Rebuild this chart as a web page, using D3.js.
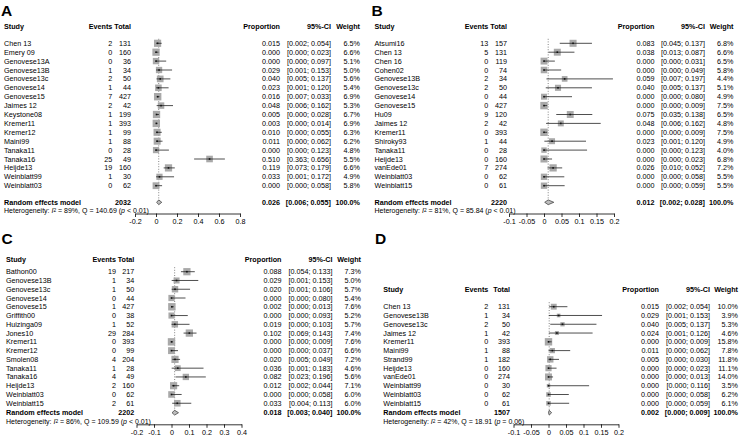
<!DOCTYPE html>
<html><head><meta charset="utf-8">
<script src="https://cdn.jsdelivr.net/npm/d3@7"></script>
<style>
body{margin:0;background:#fff}
svg{display:block}
text{font-family:"Liberation Sans",Arial,Helvetica,sans-serif;fill:#000}
</style>
</head><body>
<svg id="chart" width="740" height="445"></svg>
<script>
// ---------------- DATA ----------------
// Panel A
const A_studies = ["Chen 13","Emery 09","Genovese13A","Genovese13B","Genovese13c","Genovese14","Genovese15","Jaimes 12","Keystone08","Kremer11","Kremer12","Maini99","Tanaka11","Tanaka16","Heijde13","Weinblatt99","Weinblatt03"];
const A_events  = [2,0,0,1,2,1,7,2,1,1,1,1,0,25,19,1,0];
const A_totals  = [131,160,36,34,50,44,427,42,199,393,99,88,28,49,160,30,62];
const A_prop    = [0.015,0.000,0.000,0.029,0.040,0.023,0.016,0.048,0.005,0.003,0.010,0.011,0.000,0.510,0.119,0.033,0.000];
const A_lower   = [0.002,0.000,0.000,0.001,0.005,0.001,0.007,0.006,0.000,0.000,0.000,0.000,0.000,0.363,0.073,0.001,0.000];
const A_upper   = [0.054,0.023,0.097,0.153,0.137,0.120,0.033,0.162,0.028,0.014,0.055,0.062,0.123,0.656,0.179,0.172,0.058];
const A_weight  = [6.5,6.6,5.1,5.0,5.6,5.4,6.9,5.3,6.7,6.9,6.3,6.2,4.8,5.5,6.6,4.9,5.8];
const A_pooled  = {total:2032, est:0.026, lower:0.006, upper:0.055, i2:"89%", q:"140.69", p:"< 0.01"};
const A_ticks   = [-0.2,0,0.2,0.4,0.6,0.8];
const A_tickLabels = ["-0.2","0","0.2","0.4","0.6","0.8"];

// Panel B
const B_studies = ["Atsumi16","Chen 13","Chen 16","Cohen02","Genovese13B","Genovese13c","Genovese14","Genovese15","Hu09","Jaimes 12","Kremer11","Shiroky93","Tanaka11","Heijde13","vanEde01","Weinblatt03","Weinblatt15"];
const B_events  = [13,5,0,0,2,2,0,0,9,2,0,1,0,0,7,0,0];
const B_totals  = [157,131,119,74,34,50,44,427,120,42,393,44,28,160,274,62,61];
const B_prop    = [0.083,0.038,0.000,0.000,0.059,0.040,0.000,0.000,0.075,0.048,0.000,0.023,0.000,0.000,0.026,0.000,0.000];
const B_lower   = [0.045,0.013,0.000,0.000,0.007,0.005,0.000,0.000,0.035,0.006,0.000,0.001,0.000,0.000,0.010,0.000,0.000];
const B_upper   = [0.137,0.087,0.031,0.049,0.197,0.137,0.080,0.009,0.138,0.162,0.009,0.120,0.123,0.023,0.052,0.058,0.059];
const B_weight  = [6.8,6.6,6.5,5.8,4.4,5.1,4.9,7.5,6.5,4.8,7.5,4.9,4.0,6.8,7.2,5.5,5.5];
const B_pooled  = {total:2220, est:0.012, lower:0.002, upper:0.028, i2:"81%", q:"85.84", p:"< 0.01"};
const B_ticks   = [-0.1,-0.05,0,0.05,0.1,0.15,0.2];
const B_tickLabels = ["-0.1","-0.05","0","0.05","0.1","0.15","0.2"];

// Panel C
const C_studies = ["Bathon00","Genovese13B","Genovese13c","Genovese14","Genovese15","Griffith00","Huizinga09","Jones10","Kremer11","Kremer12","Smolen08","Tanaka11","Tanaka16","Heijde13","Weinblatt03","Weinblatt15"];
const C_events  = [19,1,1,0,1,0,1,29,0,0,4,1,4,2,0,2];
const C_totals  = [217,34,50,44,427,38,52,284,393,99,204,28,49,160,62,61];
const C_prop    = [0.088,0.029,0.020,0.000,0.002,0.000,0.019,0.102,0.000,0.000,0.020,0.036,0.082,0.012,0.000,0.033];
const C_lower   = [0.054,0.001,0.001,0.000,0.000,0.000,0.000,0.069,0.000,0.000,0.005,0.001,0.023,0.002,0.000,0.004];
const C_upper   = [0.133,0.153,0.106,0.080,0.013,0.093,0.103,0.143,0.009,0.037,0.049,0.183,0.196,0.044,0.058,0.113];
const C_weight  = [7.3,5.0,5.7,5.4,7.6,5.2,5.7,7.4,7.6,6.6,7.2,4.6,5.6,7.1,6.0,6.0];
const C_pooled  = {total:2202, est:0.018, lower:0.003, upper:0.040, i2:"86%", q:"109.59", p:"< 0.01"};
const C_ticks   = [-0.2,-0.1,0,0.1,0.2,0.3,0.4];
const C_tickLabels = ["-0.2","-0.1","0","0.1","0.2","0.3","0.4"];

// Panel D
const D_studies = ["Chen 13","Genovese13B","Genovese13c","Jaimes 12","Kremer11","Maini99","Strand99","Heijde13","vanEde01","Weinblatt99","Weinblatt03","Weinblatt15"];
const D_events  = [2,1,2,1,0,1,1,0,0,0,0,0];
const D_totals  = [131,34,50,42,393,88,182,160,274,30,62,61];
const D_prop    = [0.015,0.029,0.040,0.024,0.000,0.011,0.005,0.000,0.000,0.000,0.000,0.000];
const D_lower   = [0.002,0.001,0.005,0.001,0.000,0.000,0.000,0.000,0.000,0.000,0.000,0.000];
const D_upper   = [0.054,0.153,0.137,0.126,0.009,0.062,0.030,0.023,0.013,0.116,0.058,0.059];
const D_weight  = [10.0,3.9,5.3,4.6,15.8,7.8,11.8,11.1,14.0,3.5,6.2,6.1];
const D_pooled  = {total:1507, est:0.002, lower:0.000, upper:0.009, i2:"42%", q:"18.91", p:"= 0.06"};
const D_ticks   = [-0.1,-0.05,0,0.05,0.1,0.15,0.2];
const D_tickLabels = ["-0.1","-0.05","0","0.05","0.1","0.15","0.2"];

// ---------------- LAYOUT ----------------
const panels = [
  {label:"A", studies:A_studies, events:A_events, totals:A_totals, prop:A_prop, lower:A_lower, upper:A_upper, weight:A_weight, pooled:A_pooled, ticks:A_ticks, tickLabels:A_tickLabels,
   L:{letterX:1, letterY:15.5, studyX:4, eventsR:112.3, totalR:131, headerY:26.7, row0:43.3, rowStep:8.9, reY:202.3, hetY:210.7, axisY:213.5, xr:[135,240], propR:280, ciR:331, wR:360}},
  {label:"B", studies:B_studies, events:B_events, totals:B_totals, prop:B_prop, lower:B_lower, upper:B_upper, weight:B_weight, pooled:B_pooled, ticks:B_ticks, tickLabels:B_tickLabels,
   L:{letterX:371.5, letterY:15.5, studyX:374.5, eventsR:488.3, totalR:507, headerY:26.7, row0:43.3, rowStep:8.9, reY:202.3, hetY:210.7, axisY:213.5, xr:[509,614], propR:654.5, ciR:705, wR:733.5}},
  {label:"C", studies:C_studies, events:C_events, totals:C_totals, prop:C_prop, lower:C_lower, upper:C_upper, weight:C_weight, pooled:C_pooled, ticks:C_ticks, tickLabels:C_tickLabels,
   L:{letterX:1.5, letterY:243.5, studyX:6, eventsR:116, totalR:134.3, headerY:259.3, row0:271.7, rowStep:8.77, reY:412.7, hetY:421.7, axisY:424.3, xr:[136.5,241.5], propR:281.5, ciR:332.5, wR:361}},
  {label:"D", studies:D_studies, events:D_events, totals:D_totals, prop:D_prop, lower:D_lower, upper:D_upper, weight:D_weight, pooled:D_pooled, ticks:D_ticks, tickLabels:D_tickLabels,
   L:{letterX:375, letterY:244, studyX:383.3, eventsR:488.3, totalR:510, headerY:289.3, row0:306.7, rowStep:8.78, reY:412.7, hetY:421.7, axisY:424.3, xr:[513.5,618.5], propR:659, ciR:710, wR:738}}
];

const FS = 7.2;
const svg = d3.select("#chart");
const f3 = d3.format(".3f");
const f1 = d3.format(".1f");

function txt(g, x, y, s, opts={}) {
  return g.append("text").attr("x", x).attr("y", y).attr("dy", "0.35em")
    .attr("font-size", opts.size || FS)
    .attr("font-weight", opts.bold ? "bold" : null)
    .attr("text-anchor", opts.anchor || "start")
    .text(s);
}

panels.forEach(p => {
  const L = p.L;
  const g = svg.append("g");
  const n = p.studies.length;
  const x = d3.scaleLinear().domain([p.ticks[0], p.ticks[p.ticks.length-1]]).range(L.xr);
  const y = d3.scaleLinear().domain([0, n-1]).range([L.row0, L.row0 + (n-1)*L.rowStep]);
  const maxW = d3.max(p.weight);
  const side = d3.scaleSqrt().domain([0, maxW]).range([0, 7.4]);

  // panel letter
  g.append("text").attr("x", L.letterX).attr("y", L.letterY)
    .attr("font-size", 15.5).attr("font-weight", "bold").text(p.label);

  // headers
  txt(g, L.studyX, L.headerY, "Study", {bold:true});
  txt(g, L.eventsR, L.headerY, "Events", {bold:true, anchor:"end"});
  txt(g, L.totalR, L.headerY, "Total", {bold:true, anchor:"end"});
  txt(g, L.propR, L.headerY, "Proportion", {bold:true, anchor:"end"});
  txt(g, L.ciR, L.headerY, "95%-CI", {bold:true, anchor:"end"});
  txt(g, L.wR, L.headerY, "Weight", {bold:true, anchor:"end"});

  // study rows
  p.studies.forEach((s, i) => {
    const yy = y(i);
    txt(g, L.studyX, yy, s);
    txt(g, L.eventsR, yy, p.events[i], {anchor:"end"});
    txt(g, L.totalR, yy, p.totals[i], {anchor:"end"});
    txt(g, L.propR, yy, f3(p.prop[i]), {anchor:"end"});
    txt(g, L.ciR, yy, "[" + f3(p.lower[i]) + "; " + f3(p.upper[i]) + "]", {anchor:"end"});
    txt(g, L.wR, yy, f1(p.weight[i]) + "%", {anchor:"end"});
  });

  // pooled row
  const pl = p.pooled;
  txt(g, L.studyX, L.reY, "Random effects model", {bold:true});
  txt(g, L.totalR, L.reY, pl.total, {bold:true, anchor:"end"});
  txt(g, L.propR, L.reY, f3(pl.est), {bold:true, anchor:"end"});
  txt(g, L.ciR, L.reY, "[" + f3(pl.lower) + "; " + f3(pl.upper) + "]", {bold:true, anchor:"end"});
  txt(g, L.wR, L.reY, "100.0%", {bold:true, anchor:"end"});

  // heterogeneity
  const ht = g.append("text").attr("x", L.studyX).attr("y", L.hetY).attr("dy", "0.35em").attr("font-size", 7);
  ht.append("tspan").text("Heterogeneity: ");
  ht.append("tspan").attr("font-style", "italic").text("I");
  ht.append("tspan").attr("font-size", 4.8).attr("dy", "-0.3em").text("2");
  ht.append("tspan").attr("dy", "0.2em").text(" = " + pl.i2 + ",  Q = " + pl.q + " (");
  ht.append("tspan").attr("font-style", "italic").text("p");
  ht.append("tspan").text(" " + pl.p + ")");

  // dotted line at pooled estimate
  g.append("line").attr("x1", x(pl.est)).attr("x2", x(pl.est))
    .attr("y1", L.row0 - 4.5).attr("y2", L.reY)
    .attr("stroke", "#666").attr("stroke-width", 0.8).attr("stroke-dasharray", "1,1.6");

  // squares, CI lines
  p.studies.forEach((s, i) => {
    const yy = y(i);
    const sz = side(p.weight[i]);
    g.append("rect").attr("x", x(p.prop[i]) - sz/2).attr("y", yy - sz/2)
      .attr("width", sz).attr("height", sz).attr("fill", "#a9a9a9");
    g.append("line").attr("x1", x(p.lower[i])).attr("x2", x(p.upper[i]))
      .attr("y1", yy).attr("y2", yy).attr("stroke", "#222").attr("stroke-width", 0.8);
    g.append("rect").attr("x", x(p.prop[i]) - 0.8).attr("y", yy - 0.8)
      .attr("width", 1.6).attr("height", 1.6).attr("fill", "#111");
  });

  // diamond
  const dh = 2.4;
  g.append("polygon")
    .attr("points", [[x(pl.lower), L.reY],[x(pl.est), L.reY - dh],[x(pl.upper), L.reY],[x(pl.est), L.reY + dh]].map(d => d.join(",")).join(" "))
    .attr("fill", "#bdbdbd").attr("stroke", "#333").attr("stroke-width", 0.7);

  // axis
  const ax = d3.axisBottom(x).tickValues(p.ticks).tickSizeInner(3.5).tickSizeOuter(0).tickPadding(2)
    .tickFormat((d, i) => p.tickLabels[i]);
  const ag = g.append("g").attr("transform", `translate(0,${L.axisY})`).call(ax);
  ag.selectAll("path,line").attr("stroke", "#000").attr("stroke-width", 0.8);
  ag.selectAll("text").attr("font-size", FS).attr("font-family", "Liberation Sans, Arial, sans-serif").attr("fill", "#000");
});
</script>
</body></html>
